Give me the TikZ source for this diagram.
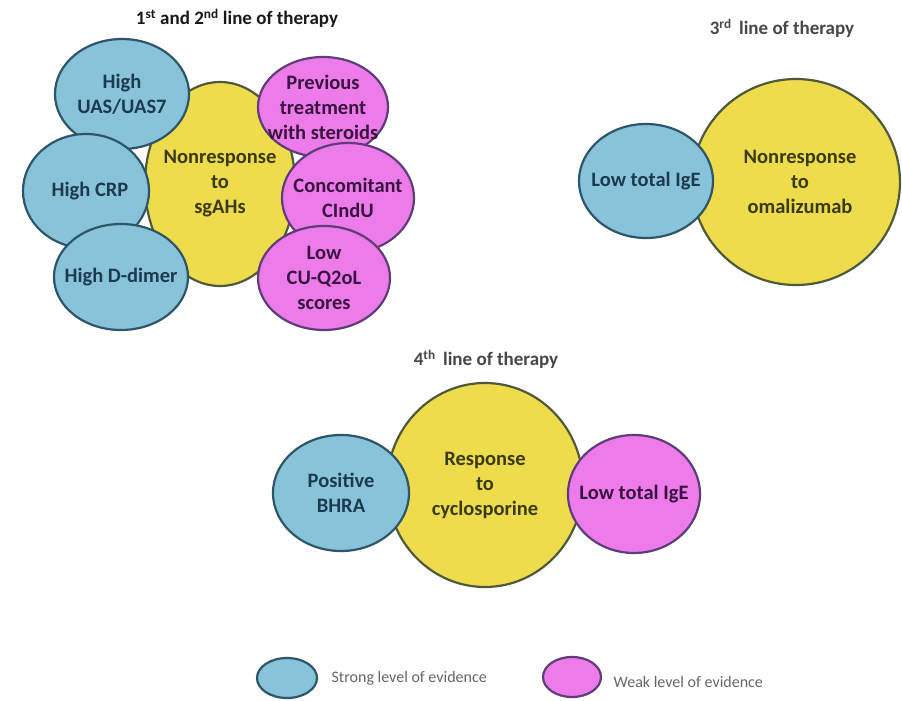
\documentclass[tikz,border=0pt]{standalone}
\usepackage{fontspec}
\setmainfont{Carlito}
\usepackage{xcolor}
\usepackage{tikz}
\usetikzlibrary{
    shapes.geometric,
    positioning
}
\definecolor{strongfill}{HTML}{88C3DA}
\definecolor{strongline}{HTML}{2F5668}
\definecolor{strongtext}{HTML}{1B3A4E}
\definecolor{weakfill}{HTML}{EE7BEA}
\definecolor{weakline}{HTML}{5E3E78}
\definecolor{weaktext}{HTML}{3A1440}
\definecolor{respfill}{HTML}{EEDC4C}
\definecolor{respline}{HTML}{4E5A3A}
\definecolor{resptext}{HTML}{3A3A10}
\tikzstyle{bubble} = [
    ellipse,
    line width=2.2pt,
    inner sep=0pt
]
\tikzstyle{bubbletext} = [
    inner sep=0pt,
    text centered,
    align=center,
    font=\bfseries\fontsize{20.5}{25}\selectfont
]
\tikzstyle{strong} = [
    bubble,
    draw=strongline,
    fill=strongfill
]
\tikzstyle{weak} = [
    bubble,
    draw=weakline,
    fill=weakfill
]
\tikzstyle{resp} = [
    bubble,
    draw=respline,
    fill=respfill
]
\tikzstyle{strongtxt} = [bubbletext, text=strongtext]
\tikzstyle{weaktxt} = [bubbletext, text=weaktext]
\tikzstyle{resptxt} = [bubbletext, text=resptext]
\tikzstyle{linetitle} = [
    font=\bfseries\fontsize{19}{22}\selectfont,
    text=black!72
]
\tikzstyle{legtext} = [
    font=\fontsize{16}{19}\selectfont,
    text=black!60,
    anchor=west
]
\begin{document}
\begin{tikzpicture}[x=1pt, y=-1pt]
    \useasboundingbox (0,0) rectangle (902,701);
    \fill[white] (0,0) rectangle (902,701);

    \node[linetitle, text=black!90] (title1) at (237,18)
        {1\textsuperscript{st} and 2\textsuperscript{nd} line of therapy};
    \node[resp, minimum width=150pt, minimum height=204pt,
        label={[resptxt]center:{Nonresponse\\to\\sgAHs}}] (sgahs) at (220,184) {};
    \node[strong, minimum width=134pt, minimum height=110pt,
        label={[strongtxt]center:{High\\UAS/UAS7}}] (uas) at (122,94) {};
    \node[strong, minimum width=126pt, minimum height=114pt,
        label={[strongtxt, xshift=4pt]center:{High CRP}}] (crp) at (86,191) {};
    \node[strong, minimum width=134pt, minimum height=106pt,
        label={[strongtxt]center:{High D-dimer}}] (ddimer) at (121,277) {};
    \node[weak, minimum width=130pt, minimum height=100pt,
        label={[weaktxt]center:{Previous\\treatment\\with steroids}}] (steroids) at (323,107) {};
    \node[weak, minimum width=132pt, minimum height=110pt,
        label={[weaktxt]center:{Concomitant\\CIndU}}] (cindu) at (348,198) {};
    \node[weak, minimum width=132pt, minimum height=104pt,
        label={[weaktxt]center:{Low\\CU-Q2oL\\scores}}] (cuqol) at (324,278) {};

    \node[linetitle] (title3) at (782,28)
        {3\textsuperscript{rd}\, line of therapy};
    \node[resp, minimum width=208pt, minimum height=206pt,
        label={[resptxt, xshift=4pt]center:{Nonresponse\\to\\omalizumab}}] (omal) at (796,182) {};
    \node[strong, minimum width=134pt, minimum height=114pt,
        label={[strongtxt]center:{Low total IgE}}] (igelow) at (646,181) {};

    \node[linetitle] (title4) at (486,359)
        {4\textsuperscript{th}\, line of therapy};
    \node[resp, minimum width=196pt, minimum height=204pt,
        label={[resptxt]center:{Response\\to\\cyclosporine}}] (cyclo) at (485,485) {};
    \node[strong, minimum width=136pt, minimum height=116pt,
        label={[strongtxt]center:{Positive\\BHRA}}] (bhra) at (341,493) {};
    \node[weak, minimum width=132pt, minimum height=118pt,
        label={[weaktxt]center:{Low total IgE}}] (igeweak) at (634,494) {};

    \node[strong, minimum width=60pt, minimum height=40pt] (legstrong) at (287,678) {};
    \node[legtext, right=10pt of legstrong] {Strong level of evidence};
    \node[weak, minimum width=58pt, minimum height=40pt] (legweak) at (572,677) {};
    \node[legtext, right=8pt of legweak, yshift=-5pt] {Weak level of evidence};
\end{tikzpicture}
\end{document}
